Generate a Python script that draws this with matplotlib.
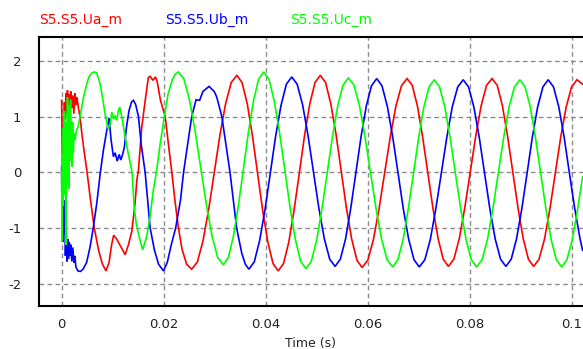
import numpy as np
import matplotlib
matplotlib.use("Agg")
import matplotlib.pyplot as plt

# ---------------- measured phase voltages (time in ms, value in p.u.) ----------------
t_ua_ms = [0.0, 0.12, 0.25, 0.4, 0.55, 0.7, 0.85, 1.0, 1.15, 1.3, 1.45, 1.6, 1.8, 2.0, 2.2, 2.4,
           2.6, 2.8, 3.0, 3.3, 3.6, 3.96, 4.45, 4.94, 5.6, 6.4, 7.3, 8.0, 8.7, 9.3, 9.8, 10.2,
           10.8, 11.5, 12.0, 12.45, 13.1, 13.76, 14.4, 14.75, 15.06, 15.7, 16.4, 17.0, 17.35,
           17.9, 18.4, 18.75, 19.35, 20.3, 21.0, 21.6, 22.2, 22.9, 23.6, 24.5, 25.5,
           26.61, 27.71, 28.82, 29.93, 31.03, 32.14, 33.24, 34.35,
           35.36, 36.38, 37.39, 38.40, 39.41, 40.43, 41.44, 42.45,
           43.48, 44.51, 45.54, 46.58, 47.61, 48.64, 49.67, 50.7,
           51.73, 52.75, 53.78, 54.8, 55.83, 56.85, 57.88, 58.9,
           60.0, 61.1, 62.2, 63.3, 64.4, 65.5, 66.6, 67.7,
           68.71, 69.73, 70.74, 71.75, 72.76, 73.78, 74.79, 75.8,
           76.87, 77.94, 79.01, 80.08, 81.14, 82.21, 83.28, 84.35,
           85.37, 86.39, 87.41, 88.43, 89.44, 90.46, 91.48, 92.5,
           93.56, 94.63, 95.69, 96.75, 97.81, 98.88, 99.94, 101.0, 102.1]
ua = [1.29, 0.4, -0.9, 0.7, 1.25, 0.95, 1.42, 1.05, 1.47, 1.1, 1.4, 0.95, 1.45, 1.15, 1.38, 1.05,
      1.42, 1.2, 1.35, 1.15, 1.0, 0.70, 0.35, 0.04, -0.45, -1.0, -1.42, -1.65, -1.77, -1.62, -1.3, -1.13,
      -1.2, -1.32, -1.4, -1.48, -1.3, -1.06, -0.55, -0.14, 0.04, 0.8, 1.3, 1.7, 1.72,
      1.65, 1.71, 1.62, 1.3, 1.0, 0.45, 0.0, -0.5, -1.0, -1.38, -1.65, -1.74,
      -1.61, -1.23, -0.67, 0.0, 0.67, 1.23, 1.61, 1.74,
      1.61, 1.23, 0.66, -0.02, -0.69, -1.26, -1.64, -1.77,
      -1.64, -1.26, -0.69, -0.02, 0.66, 1.23, 1.61, 1.74,
      1.61, 1.23, 0.68, 0.02, -0.65, -1.20, -1.58, -1.71,
      -1.58, -1.21, -0.66, -0.02, 0.63, 1.18, 1.55, 1.68,
      1.56, 1.19, 0.64, 0.0, -0.64, -1.19, -1.56, -1.69,
      -1.56, -1.19, -0.64, 0.0, 0.64, 1.19, 1.56, 1.68,
      1.56, 1.19, 0.64, 0.0, -0.64, -1.19, -1.56, -1.69,
      -1.56, -1.20, -0.66, -0.02, 0.63, 1.17, 1.53, 1.66, 1.58]

t_ub_ms = [0.0, 0.1, 0.2, 0.3, 0.4, 0.5, 0.6, 0.75, 0.9, 1.05, 1.2, 1.35, 1.5, 1.65, 1.8, 2.0,
           2.2, 2.4, 2.6, 2.8, 3.2, 3.7, 4.2, 4.9, 5.6, 6.2, 6.9, 7.6, 8.2, 8.85, 9.3, 9.7,
           10.15, 10.5, 10.9, 11.3, 11.6, 11.9, 12.3, 12.7, 13.2, 13.7, 14.07, 14.5, 15.06,
           15.6, 16.37, 16.9, 17.35, 18.2, 19.0, 19.96, 20.7, 21.5, 22.35, 23.3, 23.9, 24.7,
           25.5, 26.35, 27.05, 27.7, 28.9, 29.9, 30.4, 31.4, 32.2, 33.0, 33.65, 34.3, 35.3,
           36.0, 36.7,
           37.75, 38.8, 39.85, 40.9, 41.95, 43.0, 44.05, 45.1,
           46.16, 47.23, 48.29, 49.35, 50.41, 51.48, 52.54, 53.6,
           54.62, 55.64, 56.66, 57.68, 58.69, 59.71, 60.73, 61.75,
           62.79, 63.84, 64.88, 65.93, 66.97, 68.01, 69.06, 70.1,
           71.18, 72.25, 73.33, 74.4, 75.48, 76.55, 77.63, 78.7,
           79.75, 80.79, 81.84, 82.89, 83.93, 84.98, 86.02, 87.07,
           88.11, 89.14, 90.18, 91.22, 92.25, 93.29, 94.32, 95.36,
           96.4, 97.44, 98.48, 99.52, 100.57, 101.61, 102.1]
ub = [0.1, -0.9, -0.2, -1.25, -0.5, -1.1, -0.7, -1.5, -1.05, -1.6, -1.2, -1.55, -1.25, -1.5, -1.3, -1.6,
      -1.35, -1.62, -1.5, -1.7, -1.77, -1.78, -1.74, -1.62, -1.33, -1.0, -0.55, 0.0, 0.4, 0.75, 0.97, 0.58,
      0.28, 0.35, 0.2, 0.32, 0.22, 0.3, 0.45, 0.8, 1.1, 1.26, 1.29, 1.22, 1.0,
      0.5, 0.0, -0.55, -1.0, -1.4, -1.65, -1.77, -1.62, -1.3, -1.0, -0.5, 0.0, 0.5,
      1.0, 1.3, 1.29, 1.45, 1.54, 1.45, 1.35, 1.0, 0.5, 0.0, -0.5, -1.0, -1.45,
      -1.65, -1.74,
      -1.61, -1.23, -0.68, -0.02, 0.65, 1.20, 1.58, 1.71,
      1.58, 1.21, 0.66, 0.01, -0.64, -1.19, -1.56, -1.69,
      -1.56, -1.20, -0.65, 0.0, 0.64, 1.19, 1.55, 1.68,
      1.55, 1.18, 0.64, -0.01, -0.66, -1.20, -1.57, -1.70,
      -1.57, -1.21, -0.66, -0.02, 0.62, 1.17, 1.53, 1.66,
      1.53, 1.17, 0.63, -0.02, -0.66, -1.20, -1.56, -1.69,
      -1.56, -1.20, -0.66, -0.02, 0.63, 1.17, 1.53, 1.66,
      1.53, 1.17, 0.63, -0.02, -0.66, -1.20, -1.40]

t_uc_ms = [0.0, 0.08, 0.16, 0.25, 0.35, 0.45, 0.55, 0.65, 0.75, 0.85, 0.95, 1.05, 1.15, 1.25, 1.35,
           1.45, 1.55, 1.65, 1.75, 1.85, 1.95, 2.05, 2.15, 2.3, 2.45, 2.64, 2.9, 3.2, 3.62, 4.3,
           4.94, 5.4, 5.92, 6.4, 6.9, 7.54, 8.0, 8.52, 9.1, 9.5, 9.83, 10.2, 10.48, 10.81, 11.1,
           11.4, 11.8, 12.24, 13.03, 13.81, 14.2, 14.59, 15.18, 15.87, 16.69, 17.34, 17.98,
           18.65, 19.3, 20.14, 20.86, 21.65, 22.25, 22.88,
           23.98, 25.08, 26.18, 27.29, 28.39, 29.49, 30.59, 31.69,
           32.68, 33.67, 34.66, 35.65, 36.63, 37.62, 38.61, 39.6,
           40.64, 41.67, 42.71, 43.75, 44.78, 45.82, 46.85, 47.89,
           48.93, 49.96, 51.0, 52.04, 53.07, 54.11, 55.14, 56.18,
           57.27, 58.36, 59.44, 60.53, 61.62, 62.71, 63.79, 64.88,
           65.9, 66.92, 67.94, 68.96, 69.97, 70.99, 72.01, 73.03,
           74.07, 75.11, 76.14, 77.18, 78.22, 79.26, 80.29, 81.33,
           82.39, 83.45, 84.51, 85.57, 86.63, 87.69, 88.75, 89.81,
           90.83, 91.85, 92.87, 93.9, 94.92, 95.94, 96.96, 97.98,
           99.03, 100.08, 101.13, 102.1]
uc = [0.0, -1.24, 0.3, -0.6, 0.8, -0.3, 1.1, -0.4, 0.5, -1.3, 0.9, -0.2, 1.35, 0.1, 1.2,
      -0.3, 0.9, 0.2, 1.3, 0.3, 0.8, 0.1, 0.9, 0.35, 0.7, 0.58, 0.75, 0.8, 1.0, 1.35,
      1.59, 1.72, 1.78, 1.8, 1.78, 1.59, 1.35, 1.05, 0.78, 0.85, 1.08, 0.95, 1.02, 0.93, 1.1,
      1.17, 1.0, 0.75, 0.35, 0.0, -0.6, -0.9, -1.15, -1.39, -1.15, -0.79, -0.32,
      0.04, 0.5, 1.0, 1.4, 1.65, 1.76, 1.8,
      1.67, 1.29, 0.73, 0.07, -0.59, -1.15, -1.53, -1.66,
      -1.53, -1.15, -0.59, 0.07, 0.73, 1.29, 1.67, 1.8,
      1.67, 1.28, 0.71, 0.04, -0.64, -1.21, -1.60, -1.73,
      -1.60, -1.23, -0.67, -0.02, 0.63, 1.19, 1.56, 1.69,
      1.57, 1.20, 0.65, 0.0, -0.65, -1.20, -1.57, -1.70,
      -1.57, -1.21, -0.66, -0.02, 0.62, 1.17, 1.53, 1.66,
      1.53, 1.17, 0.62, -0.02, -0.66, -1.21, -1.57, -1.70,
      -1.57, -1.21, -0.66, -0.02, 0.62, 1.17, 1.53, 1.66,
      1.53, 1.17, 0.62, -0.02, -0.66, -1.21, -1.57, -1.70,
      -1.57, -1.21, -0.66, -0.08]

series_names = ["S5.S5.Ua_m", "S5.S5.Ub_m", "S5.S5.Uc_m"]
series_colors = ["#ff0000", "#0000ff", "#00ff00"]

x_ticks = [0.0, 0.02, 0.04, 0.06, 0.08, 0.1]
x_tick_labels = ["0", "0.02", "0.04", "0.06", "0.08", "0.1"]
y_ticks = [-2, -1, 0, 1, 2]
y_tick_labels = ["-2", "-1", "0", "1", "2"]

# ---------------- figure ----------------
W, H = 583, 349
fig = plt.figure(figsize=(W / 100, H / 100), dpi=100, facecolor="white")
ax_left, ax_right, ax_top, ax_bottom = 39.3, 582.5, 36.8, 306.0
ax = fig.add_axes([ax_left / W, (H - ax_bottom) / H,
                   (ax_right - ax_left) / W, (ax_bottom - ax_top) / H])

for t_ms, vals, col in zip([t_ua_ms, t_ub_ms, t_uc_ms], [ua, ub, uc], series_colors):
    ax.plot(np.asarray(t_ms) / 1000.0, vals, color=col, lw=1.2, solid_joinstyle="miter")

ax.set_xlim(-0.00437, 0.10208)
ax.set_ylim(-2.40, 2.43)
ax.set_xticks(x_ticks)
ax.set_xticklabels(x_tick_labels)
ax.set_yticks(y_ticks)
ax.set_yticklabels(y_tick_labels)
ax.tick_params(axis="both", length=0, labelsize=9.5, labelcolor="#222222")
ax.tick_params(axis="y", pad=12.8)
ax.tick_params(axis="x", pad=8.4)
ax.grid(True, color="#8c8c8c", linestyle=(0, (3.4, 2.4)), lw=1.0)
ax.set_axisbelow(True)

for side in ("left", "bottom", "top"):
    ax.spines[side].set_linewidth(1.5)
    ax.spines[side].set_color("black")
ax.spines["right"].set_visible(False)

# series names along the top
for x_px, name, col in zip([39.3, 165.0, 290.0], series_names, series_colors):
    fig.text(x_px / W, (H - 24.0) / H, name, color=col, fontsize=10,
             ha="left", va="baseline")

fig.text((ax_left + ax_right) / 2 / W, (H - 346.5) / H, "Time (s)", fontsize=9,
         color="#222222", ha="center", va="baseline")

fig.savefig("out.png", dpi=100, facecolor="white")
